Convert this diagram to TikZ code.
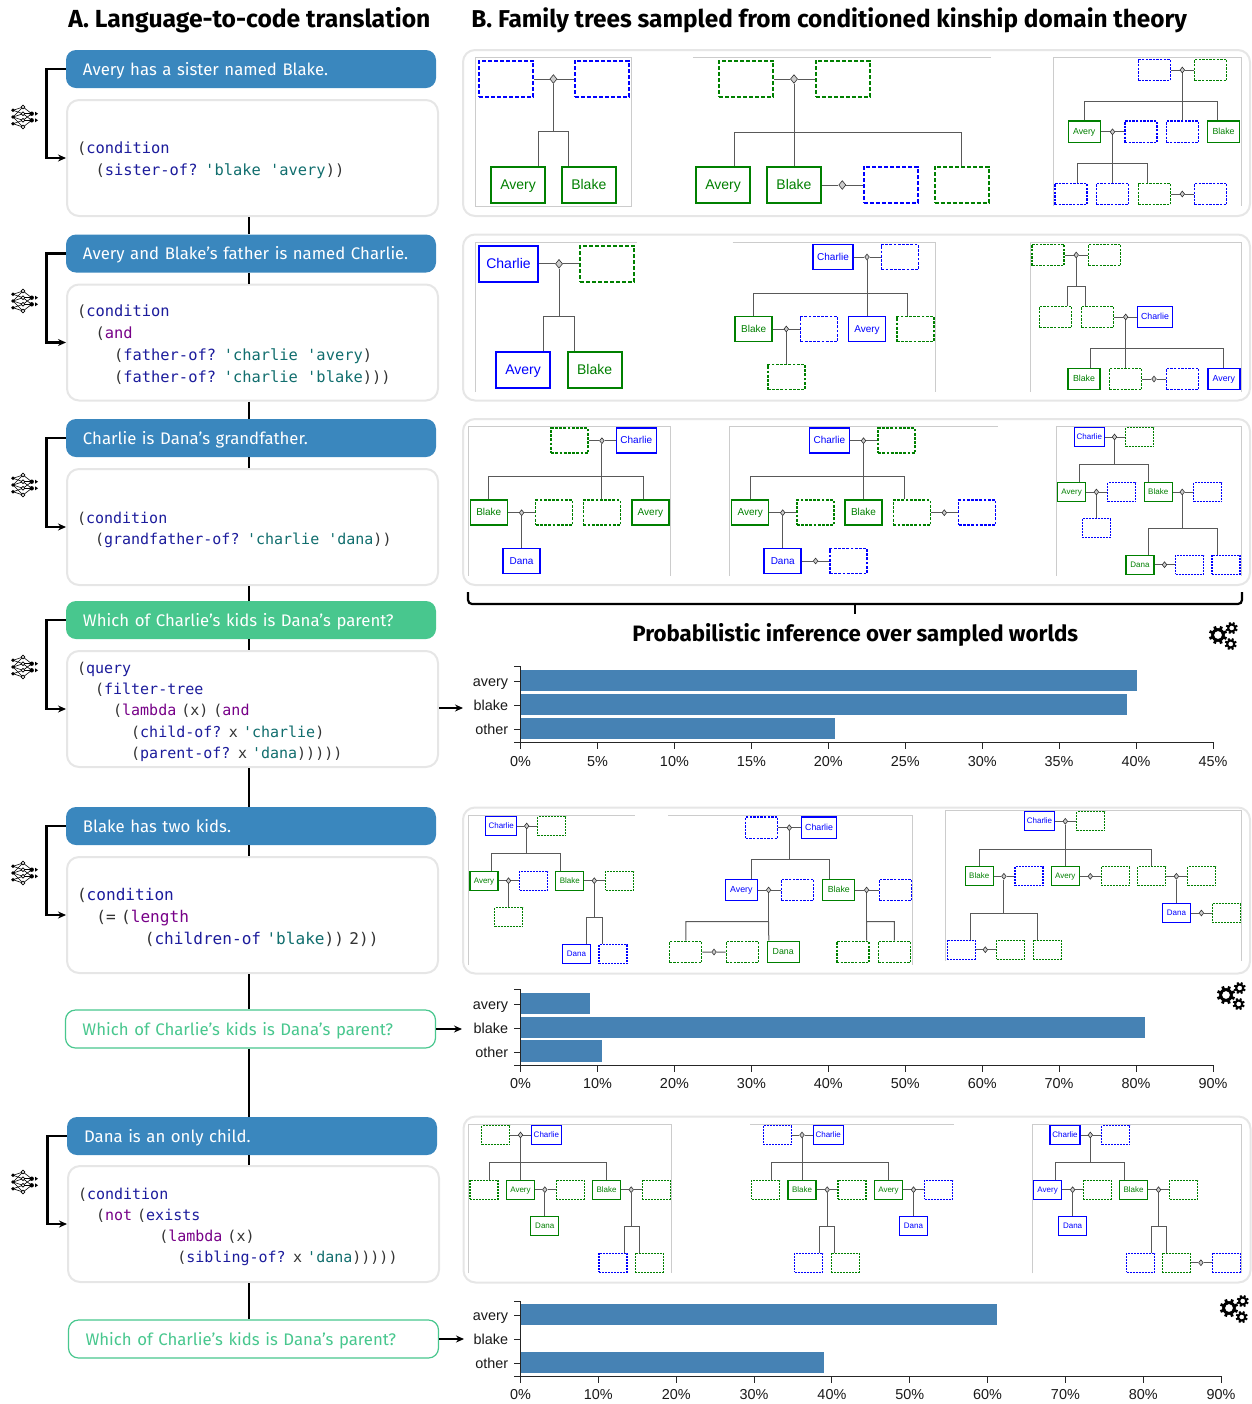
\documentclass[tikz,border=0pt]{standalone}
\usepackage{fontspec}
\usepackage{xcolor}
\usepackage{tikz}
\usetikzlibrary{positioning, arrows.meta, shapes.geometric}
\setmainfont{Fira Sans}
\newfontfamily\codefont{DejaVu Sans Mono}
\newfontfamily\plotfont{Liberation Sans}

\definecolor{langblue}{HTML}{3A87BE}
\definecolor{askgreen}{HTML}{48C78E}
\definecolor{panelgray}{HTML}{E6E6E6}
\definecolor{framegray}{HTML}{CCCCCC}
\definecolor{barblue}{HTML}{4682B4}
\definecolor{codenavy}{HTML}{1C1C9C}
\definecolor{codepurple}{HTML}{770088}
\definecolor{codeteal}{HTML}{116E6E}
\definecolor{codeplain}{HTML}{333333}
\definecolor{kinblue}{HTML}{0000FF}
\definecolor{kingreen}{HTML}{008000}

\newcommand{\fn}[1]{\textcolor{codenavy}{#1}}
\newcommand{\kw}[1]{\textcolor{codepurple}{#1}}
\newcommand{\qt}[1]{\textcolor{codeteal}{#1}}
\newcommand{\ind}[1]{\hphantom{#1}}

\tikzset{
  lang/.style={rectangle, fill=langblue, text=white, rounded corners=5pt, inner ysep=0pt, inner xsep=8.5pt,
    text width=168pt, text height=7.5pt, text depth=1.5pt, minimum height=19pt, align=left, font=\fontsize{8.38}{10}\selectfont},
  query/.style={lang, fill=askgreen},
  askout/.style={lang, fill=white, draw=askgreen, line width=0.6pt, text=askgreen},
  codebox/.style={rectangle, draw=panelgray, fill=white, line width=1pt, rounded corners=6pt, inner xsep=5pt, inner ysep=0pt,
    text width=175.5pt, minimum height=58pt, align=left, text=codeplain, font=\codefont\fontsize{7.7}{11}\selectfont,
    execute at begin node={\rule{0pt}{8.4pt}}},
  codewide/.style={font=\codefont\fontsize{8.05}{11}\selectfont},
  codetight/.style={font=\codefont\fontsize{7.5}{10.6}\selectfont},
  panel/.style={rectangle, draw=panelgray, fill=white, line width=1pt, rounded corners=6pt, minimum width=393.5pt, minimum height=83pt},
  spine/.style={draw=black, line width=0.7pt},
  elbow/.style={draw=black, line width=1.2pt, -{Stealth[length=4pt,width=3.5pt]}},
  outarrow/.style={draw=black, line width=0.6pt, -{Stealth[length=4pt,width=3.5pt]}},
  frame/.style={draw=framegray, line width=0.5pt},
  kinline/.style={draw=black!65, line width=0.5pt},
  kina/.style={rectangle, inner sep=0pt, line width=1pt, dash pattern=on 2pt off 1pt, minimum width=27pt, minimum height=18.2pt, text height=5.6pt, text depth=1.1pt, font=\plotfont\fontsize{7}{8}\selectfont},
  kinb/.style={rectangle, inner sep=0pt, line width=0.75pt, dash pattern=on 1.4pt off 0.7pt, minimum width=18.5pt, minimum height=12.5pt, text height=4pt, text depth=0.8pt, font=\plotfont\fontsize{5}{6}\selectfont},
  kinc/.style={rectangle, inner sep=0pt, line width=0.65pt, dash pattern=on 1.2pt off 0.6pt, minimum width=16pt, minimum height=10.7pt, text height=3.5pt, text depth=0.7pt, font=\plotfont\fontsize{4.4}{5}\selectfont},
  kind/.style={rectangle, inner sep=0pt, line width=0.6pt, dash pattern=on 1pt off 0.5pt, minimum width=14pt, minimum height=9.5pt, text height=3.2pt, text depth=0.64pt, font=\plotfont\fontsize{4}{5}\selectfont},
  pb/.style={draw=kinblue, text=kinblue, solid},
  pg/.style={draw=kingreen, text=kingreen, solid},
  qb/.style={draw=kinblue},
  qg/.style={draw=kingreen},
  wed/.style={diamond, draw=black!80, fill=black!20, inner sep=0pt, line width=0.3pt, minimum width=2.4pt, minimum height=3pt},
  weda/.style={wed, minimum width=3.6pt, minimum height=4.4pt},
  axisline/.style={draw=black!85, line width=0.5pt},
  ticklab/.style={font=\plotfont\fontsize{7.2}{8}\selectfont, text=black!90, inner sep=0pt},
  heading/.style={font=\bfseries\fontsize{12.35}{14}\selectfont, inner sep=0pt, anchor=base west},
  netpic/.pic={
    \foreach \a/\b in {-6.7/-10,-6.7/-3.3,0/-10,0/-3.3,0/3.3,0/10,6.7/3.3,6.7/10}
      \draw[line width=0.3pt] (-12,\a) -- (-2,\b);
    \foreach \a/\b in {-10/-3.3,-3.3/-3.3,-3.3/3.3,3.3/-3.3,3.3/3.3,10/3.3}
      \draw[line width=0.3pt] (-2,\a) -- (6.7,\b);
    \foreach \a in {-6.7,0,6.7}
      \fill (-12,\a) circle (1.9);
    \foreach \a in {-10,-3.3,3.3,10}
      \filldraw[fill=white, line width=0.35pt] (-2,\a) circle (1.9);
    \foreach \a in {-3.3,3.3}{
      \fill (6.7,\a) circle (2.2);
      \fill (10,\a-2) -- (13,\a) -- (10,\a+2) -- cycle;
    }
  },
  gearpic/.pic={
    \foreach \cx/\cy/\r/\w/\tl in {-6/-1/5.5/1.4/9.2, 7.7/-8/3.5/1/6, 6.7/8/3.5/1/6}{
      \draw[line width=\w pt] (\cx,\cy) circle (\r);
      \foreach \a in {0,45,...,315}
        \draw[line width=\w pt, shift={(\cx,\cy)}, rotate=\a+22] (\r,0) -- (\tl,0);
    }
  }
}

\begin{document}
\begin{tikzpicture}[x=0.5pt, y=-0.5pt]
\useasboundingbox (0,0) rectangle (1252,1404);

% headings
\node[heading] (titlea) at (68,27) {A. Language-to-code translation};
\node[heading, font=\bfseries\fontsize{12.19}{14}\selectfont] (titleb) at (471,27) {B. Family trees sampled from conditioned kinship domain theory};
\node[heading, font=\bfseries\fontsize{11.13}{13}\selectfont] (titlec) at (632,641) {Probabilistic inference over sampled worlds};

% spine first, the boxes sit on it
\coordinate (spx) at (249,0);

% left column
\node[lang] (lang1) at (251,69) {Avery has a sister named Blake.};
\node[codebox] (code1) at (252.5,158) {(\fn{condition}\\\ind{xx}(\fn{sister-of?} \qt{'blake}\ind{x}\qt{'avery}))};
\node[lang] (lang2) at (251,253.5) {Avery and Blake’s father is named Charlie.};
\node[codebox] (code2) at (252.5,342.5) {(\fn{condition}\\\ind{xx}(\kw{and}\\\ind{xxxx}(\fn{father-of?} \qt{'charlie}\ind{x}\qt{'avery})\\\ind{xxxx}(\fn{father-of?} \qt{'charlie}\ind{x}\qt{'blake})))};
\node[lang] (lang3) at (251,438) {Charlie is Dana’s grandfather.};
\node[codebox,codetight] (code3) at (252.5,527) {(\fn{condition}\\\ind{xx}(\fn{grandfather-of?} \qt{'charlie}\ind{x}\qt{'dana}))};
\node[query] (lang4) at (251,620) {Which of Charlie’s kids is Dana’s parent?};
\node[codebox,codetight] (code4) at (252.5,709) {(\fn{query}\\\ind{xx}(\fn{filter-tree}\\\ind{xxxx}(\kw{lambda} (x) (\kw{and}\\\ind{xxxxxx}(\fn{child-of?} x \qt{'charlie})\\\ind{xxxxxx}(\fn{parent-of?} x \qt{'dana})))))};
\node[lang] (lang5) at (251,826) {Blake has two kids.};
\node[codebox,codewide] (code5) at (252.5,915) {(\fn{condition}\\\ind{xx}(= (\kw{length}\\\ind{xxxxxxx}(\fn{children-of} \qt{'blake})) 2))};
\node[askout] (ask5) at (250.5,1029) {Which of Charlie’s kids is Dana’s parent?};
\node[lang] (lang6) at (252,1136) {Dana is an only child.};
\node[codebox,codetight] (code6) at (253.5,1224) {(\fn{condition}\\\ind{xx}(\kw{not} (\fn{exists}\\\ind{xxxxxxxxx}(\kw{lambda} (x)\\\ind{xxxxxxxxxxx}(\fn{sibling-of?} x \qt{'dana})))))};
\node[askout] (ask6) at (253.5,1339) {Which of Charlie’s kids is Dana’s parent?};

\foreach \a/\b in {code1/lang2, lang2/code2, code2/lang3, lang3/code3, code3/lang4, lang4/code4, code4/lang5, lang5/code5, code5/ask5, ask5/lang6, lang6/code6, code6/ask6}
  \draw[spine] (\a.south -| spx) -- (\b.north -| spx);

\foreach \n in {1,...,6}
  \draw[elbow] (lang\n.west) -- ++(-19,0) |- (code\n.west);

\foreach \ny in {117,301,485,667,873,1182}
  \pic at (25,\ny) {netpic};

\coordinate (outa) at (463,708);
\coordinate (outb) at (462,1029);
\coordinate (outc) at (464,1339);
\draw[outarrow] (code4.east |- outa) -- (outa);
\draw[outarrow] (ask5.east) -- (outb);
\draw[outarrow] (ask6.east) -- (outc);

% panels
\node[panel] (pan1) at (856.5,133) {};
\node[panel] (pan2) at (856.5,317.5) {};
\node[panel] (pan3) at (856.5,502) {};
\node[panel] (pan4) at (856.5,890.5) {};
\node[panel] (pan5) at (857,1199.5) {};

% tree a
\draw[frame] (475.2,57.3) rectangle (631.7,206.3);
\node[kina,qb] (a1) at (506.2,79) {};
\node[kina,qb] (a2) at (601.9,79) {};
\node[weda] (aw) at (553.4,79) {};
\coordinate (aj) at (553.4,131.7);
\node[kina,pg] (a3) at (518.1,185) {Avery};
\node[kina,pg] (a4) at (588.8,185) {Blake};
\draw[kinline] (a1) -- (aw) -- (a2) (aw) -- (aj) ([xshift=10.1pt]a3.north) |- (aj) ([xshift=-10.1pt]a4.north) |- (aj);

% tree b
\draw[frame] (692.8,57.3) -- (991.3,57.3);
\node[kina,qg] (b1) at (746.4,79) {};
\node[kina,qg] (b2) at (842.8,79) {};
\node[weda] (bw) at (794,79) {};
\coordinate (bj) at (794,132);
\node[kina,pg] (b3) at (723.1,185) {Avery};
\node[kina,pg] (b4) at (794,185) {Blake};
\node[weda] (bw2) at (842.3,185) {};
\node[kina,qb] (b5) at (890.8,185) {};
\node[kina,qg] (b6) at (961.5,185) {};
\draw[kinline] (b1) -- (bw) -- (b2) (bw) -- (b4) ([xshift=5.5pt]b3.north) |- (bj) (b6) |- (bj) (b4) -- (bw2) -- (b5);

% tree c
\draw[frame] (1053.4,206) |- (1241.3,57.3) -- (1241.3,206);
\node[kinc,qb] (c1) at (1154.2,70) {};
\node[kinc,qg] (c2) at (1210.8,70) {};
\node[wed] (cw) at (1182.3,70) {};
\coordinate (cj) at (1182.3,101);
\node[kinc,pg] (c3) at (1084.2,131.8) {Avery};
\node[wed] (cw2) at (1112.5,131.8) {};
\node[kinc,qb] (c4) at (1141,131.8) {};
\node[kinc,qb] (c5) at (1182.3,131.8) {};
\node[kinc,pg] (c6) at (1223.6,131.8) {Blake};
\coordinate (cj2) at (1112.5,163.3);
\node[kinc,qb] (c7) at (1070.9,194) {};
\node[kinc,qb] (c8) at (1112.5,194) {};
\node[kinc,qg] (c9) at (1154.2,194) {};
\node[wed] (cw3) at (1182.3,194) {};
\node[kinc,qb] (c10) at (1210.8,194) {};
\draw[kinline] (c1) -- (cw) -- (c2) (cw) -- (c5) (c3) |- (cj) ([xshift=-3pt]c6.north) |- (cj);
\draw[kinline] (c3) -- (cw2) -- (c4) (cw2) -- (c8) ([xshift=3.4pt]c7.north) |- (cj2) ([xshift=-3.4pt]c9.north) |- (cj2) (c9) -- (cw3) -- (c10);

% tree d
\draw[frame] (475.2,392) |- (637.3,242.3);
\node[kina,pb,minimum width=29.3pt] (d1) at (508.5,263.8) {Charlie};
\node[kina,qg] (d2) at (607.2,263.8) {};
\node[weda] (dw) at (559,263.8) {};
\coordinate (dj) at (559,316.7);
\node[kina,pb] (d3) at (523.1,370.2) {Avery};
\node[kina,pg] (d4) at (594.6,370.2) {Blake};
\draw[kinline] (d1) -- (dw) -- (d2) (dw) -- (dj) ([xshift=10.1pt]d3.north) |- (dj) ([xshift=-10.2pt]d4.north) |- (dj);

% tree e
\draw[frame] (732.7,242.3) -| (935.3,392);
\node[kinb,pb,minimum width=20pt] (e1) at (833,257) {Charlie};
\node[wed] (ew) at (867,257) {};
\node[kinb,qb] (e2) at (899.9,257) {};
\coordinate (ej) at (867,293);
\node[kinb,pg] (e3) at (753.7,329) {Blake};
\node[wed] (ew2) at (786.3,329) {};
\node[kinb,qb] (e4) at (819.1,329) {};
\node[kinb,pb] (e5) at (867,329) {Avery};
\node[kinb,qg] (e6) at (915.3,329) {};
\node[kinb,qg] (e7) at (786.3,377) {};
\draw[kinline] (e1) -- (ew) -- (e2) (ew) -- (e5) (e3) |- (ej) ([xshift=-3.9pt]e6.north) |- (ej) (e3) -- (ew2) -- (e4) (ew2) -- (e7);

% tree f
\draw[frame] (1030.2,392) |- (1241.3,242.3) -- (1241.3,392);
\node[kinc,qg] (f1) at (1048.1,255) {};
\node[wed] (fw) at (1076.2,255) {};
\node[kinc,qg] (f2) at (1104.7,255) {};
\coordinate (fj) at (1076.2,286);
\node[kinc,qg] (f3) at (1055.5,317) {};
\node[kinc,qg] (f4) at (1097.4,317) {};
\node[wed] (fw2) at (1125.7,317) {};
\node[kinc,pb,minimum width=17.5pt] (f5) at (1155,317) {Charlie};
\coordinate (fj2) at (1125.7,348);
\node[kinc,pg] (f6) at (1084,379) {Blake};
\node[kinc,qg] (f7) at (1125.7,379) {};
\node[wed] (fw3) at (1154,379) {};
\node[kinc,qb] (f8) at (1182.5,379) {};
\node[kinc,pb] (f9) at (1223.9,379) {Avery};
\draw[kinline] (f1) -- (fw) -- (f2) (fw) -- (fj) ([xshift=6pt]f3.north) |- (fj) ([xshift=-6pt]f4.north) |- (fj);
\draw[kinline] (f4) -- (fw2) -- (f5) (fw2) -- (f7) ([xshift=3.2pt]f6.north) |- (fj2) (f9) |- (fj2) (f7) -- (fw3) -- (f8);

% tree g
\draw[frame] (468.6,575.7) |- (670.6,426.3) -- (670.6,575.7);
\node[kinb,qg] (g1) at (569.6,440.7) {};
\node[wed] (gw) at (601.9,440.7) {};
\node[kinb,pb,minimum width=20pt] (g2) at (636.3,440.7) {Charlie};
\coordinate (gj) at (601.9,476.7);
\node[kinb,pg] (g3) at (488.8,512.7) {Blake};
\node[wed] (gw2) at (521.6,512.7) {};
\node[kinb,qg] (g4) at (554.2,512.7) {};
\node[kinb,qg] (g5) at (601.9,512.7) {};
\node[kinb,pg] (g6) at (650.4,512.7) {Avery};
\node[kinb,pb] (g7) at (521.6,561) {Dana};
\draw[kinline] (g1) -- (gw) -- (g2) (gw) -- (g5) (g3) |- (gj) ([xshift=-3.3pt]g6.north) |- (gj) (g3) -- (gw2) -- (g4) (gw2) -- (g7);

% tree h
\draw[frame] (729.7,575.7) |- (997.9,426.3);
\node[kinb,pb,minimum width=20pt] (h1) at (829.4,440.7) {Charlie};
\node[wed] (hw) at (863.5,440.7) {};
\node[kinb,qg] (h2) at (896.6,440.7) {};
\coordinate (hj) at (863.5,476.7);
\node[kinb,pg] (h3) at (750.2,512.7) {Avery};
\node[wed] (hw2) at (782.7,512.7) {};
\node[kinb,qg] (h4) at (815.3,512.7) {};
\node[kinb,pg] (h5) at (863.5,512.7) {Blake};
\node[kinb,qg] (h6) at (911.8,512.7) {};
\node[wed] (hw3) at (944.3,512.7) {};
\node[kinb,qb] (h7) at (977.2,512.7) {};
\node[kinb,pb] (h8) at (782.7,561) {Dana};
\node[wed] (hw4) at (815.6,561) {};
\node[kinb,qb] (h9) at (848.4,561) {};
\draw[kinline] (h1) -- (hw) -- (h2) (hw) -- (h5) (h3) |- (hj) ([xshift=-3.6pt]h6.north) |- (hj);
\draw[kinline] (h3) -- (hw2) -- (h4) (hw2) -- (h8) (h6) -- (hw3) -- (h7) (h8) -- (hw4) -- (h9);

% tree i
\draw[frame] (1056,575.7) |- (1241.3,426.3) -- (1241.3,575.7);
\node[kind,pb,minimum width=15pt] (i1) at (1089.3,437) {Charlie};
\node[wed] (iw) at (1114.5,437) {};
\node[kind,qg] (i2) at (1139.5,437) {};
\coordinate (ij) at (1114.5,464.3);
\node[kind,pg] (i3) at (1071.6,492) {Avery};
\node[wed] (iw2) at (1096.4,492) {};
\node[kind,qb] (i4) at (1121.6,492) {};
\node[kind,pg] (i5) at (1158.2,492) {Blake};
\node[wed] (iw3) at (1182.2,492) {};
\node[kind,qb] (i6) at (1207.7,492) {};
\node[kind,qb] (i7) at (1096.4,528.3) {};
\coordinate (ij2) at (1182.2,528.3);
\node[kind,pg] (i8) at (1140,564.7) {Dana};
\node[wed] (iw4) at (1164.5,564.7) {};
\node[kind,qb] (i9) at (1189.5,564.7) {};
\node[kind,qb] (i10) at (1225.9,564.7) {};
\draw[kinline] (i1) -- (iw) -- (i2) (iw) -- (ij) ([xshift=3.8pt]i3.north) |- (ij) ([xshift=-4.9pt]i5.north) |- (ij);
\draw[kinline] (i3) -- (iw2) -- (i4) (iw2) -- (i7) (i5) -- (iw3) -- (i6) (iw3) -- (ij2) ([xshift=4.2pt]i8.north) |- (ij2) ([xshift=-4.4pt]i10.north) |- (ij2) (i8) -- (iw4) -- (i9);

% brace and first chart
\draw[line width=1.1pt, rounded corners=2pt] (468,592) |- (1242,604) -- (1242,592);
\coordinate (bracemid) at (855,604);
\draw[line width=1.1pt] (bracemid) -- ++(0,10);
\pic at (1224,636) {gearpic};

\fill[barblue] (520.5,669.5) rectangle (1137,691);
\fill[barblue] (520.5,693.5) rectangle (1126.5,715);
\fill[barblue] (520.5,717.5) rectangle (835,739);
\draw[axisline] (514,666) -| (520.5,742.5) -- (514,742.5);
\draw[axisline] (520.5,749) -- (520.5,742.5) -| (1213,749);
\foreach \py/\by/\lab in {681/686/avery,705/710/blake,729/734/other}{
  \draw[axisline] (514,\py) -- (520.5,\py);
  \node[ticklab, anchor=base east] (ya\lab) at (508.5,\by) {\lab};
}
\foreach \px/\v in {520.5/0,597.5/5,674.4/10,751.4/15,828.3/20,905.2/25,982.2/30,1059.1/35,1136/40,1213/45}{
  \draw[axisline] (\px,742.5) -- (\px,749);
  \node[ticklab] (xa\v) at (\px,761.5) {\v\%};
}

% tree j
\draw[frame] (468.6,965) |- (634.7,815.3);
\node[kind,pb,minimum width=15.5pt] (j1) at (501.2,826) {Charlie};
\node[wed] (jw) at (526.7,826) {};
\node[kind,qg] (j2) at (551.7,826) {};
\coordinate (jj) at (526.7,853.3);
\node[kind,pg] (j3) at (484,880.7) {Avery};
\node[wed] (jw2) at (508.5,880.7) {};
\node[kind,qb] (j4) at (533.7,880.7) {};
\node[kind,pg] (j5) at (569.8,880.7) {Blake};
\node[wed] (jw3) at (594.3,880.7) {};
\node[kind,qg] (j6) at (619.6,880.7) {};
\node[kind,qg] (j7) at (508.5,917.3) {};
\coordinate (jj2) at (594.3,917.3);
\node[kind,pb] (j8) at (576.4,954) {Dana};
\node[kind,qb] (j9) at (613,954) {};
\draw[kinline] (j1) -- (jw) -- (j2) (jw) -- (jj) ([xshift=3.7pt]j3.north) |- (jj) ([xshift=-4.7pt]j5.north) |- (jj);
\draw[kinline] (j3) -- (jw2) -- (j4) (jw2) -- (j7) (j5) -- (jw3) -- (j6) (jw3) -- (jj2) ([xshift=5pt]j8.north) |- (jj2) ([xshift=-5.3pt]j9.north) |- (jj2);

% tree k
\draw[frame] (668,815.3) -| (912.5,965);
\node[kinc,qb] (k1) at (761.8,827.7) {};
\node[wed] (kw) at (789.3,827.7) {};
\node[kinc,pb,minimum width=17.3pt] (k2) at (819.1,827.7) {Charlie};
\coordinate (kj) at (789.3,859);
\node[kinc,pb] (k3) at (741.3,890) {Avery};
\node[wed] (kw2) at (768.6,890) {};
\node[kinc,qb] (k4) at (797.6,890) {};
\node[kinc,pg] (k5) at (838.8,890) {Blake};
\node[wed] (kw3) at (866.6,890) {};
\node[kinc,qb] (k6) at (895.4,890) {};
\coordinate (kj2) at (768.6,921.7);
\coordinate (kj3) at (866.6,921.7);
\node[kinc,qg] (k7) at (685.8,952) {};
\node[wed] (kw4) at (714,952) {};
\node[kinc,qg] (k8) at (742.3,952) {};
\node[kinc,pg] (k9) at (783.2,952) {Dana};
\node[kinc,qg] (k10) at (852.9,952) {};
\node[kinc,qg] (k11) at (894.3,952) {};
\draw[kinline] (k1) -- (kw) -- (k2) (kw) -- (kj) ([xshift=5pt]k3.north) |- (kj) ([xshift=-4.5pt]k5.north) |- (kj);
\draw[kinline] (k3) -- (kw2) -- (k4) (k5) -- (kw3) -- (k6) (kw2) -- (kj2) (kw3) -- (kj3);
\draw[kinline] (k7) |- (kj2) ([xshift=-7.2pt]k9.north) -- (kj2) (k7) -- (kw4) -- (k8) ([xshift=6.8pt]k10.north) |- (kj3) (k11) |- (kj3);

% tree l
\draw[frame] (945.4,960.7) |- (1241.3,810.3) -- (1241.3,960.7);
\node[kind,pb,minimum width=15pt] (l1) at (1039.5,821.3) {Charlie};
\node[wed] (lw) at (1065.3,821.3) {};
\node[kind,qg] (l2) at (1090.6,821.3) {};
\coordinate (lj) at (1065.3,849);
\node[kind,pg] (l3) at (979.2,876.3) {Blake};
\node[wed] (lw2) at (1003.9,876.3) {};
\node[kind,qb] (l4) at (1028.9,876.3) {};
\node[kind,pg] (l5) at (1065.3,876.3) {Avery};
\node[wed] (lw3) at (1090.3,876.3) {};
\node[kind,qg] (l6) at (1115.3,876.3) {};
\node[kind,qg] (l7) at (1151.5,876.3) {};
\node[wed] (lw4) at (1176.4,876.3) {};
\node[kind,qg] (l8) at (1201.7,876.3) {};
\node[kind,pb] (l9) at (1176.4,913) {Dana};
\node[wed] (lw5) at (1201.4,913) {};
\node[kind,qg] (l10) at (1226.4,913) {};
\coordinate (lj2) at (1003.9,913.3);
\node[kind,qb] (l11) at (961.3,949.7) {};
\node[wed] (lw6) at (985.3,949.7) {};
\node[kind,qg] (l12) at (1010.5,949.7) {};
\node[kind,qg] (l13) at (1047.1,949.7) {};
\draw[kinline] (l1) -- (lw) -- (l2) (lw) -- (l5) (l3) |- (lj) (l7) |- (lj) (l3) -- (lw2) -- (l4) (l5) -- (lw3) -- (l6) (l7) -- (lw4) -- (l8) (lw4) -- (l9) (l9) -- (lw5) -- (l10);
\draw[kinline] (lw2) -- (lj2) ([xshift=4.4pt]l11.north) |- (lj2) ([xshift=-4.6pt]l13.north) |- (lj2) (l11) -- (lw6) -- (l12);

% second chart
\pic at (1232,996) {gearpic};
\fill[barblue] (520.5,992.5) rectangle (590,1014);
\fill[barblue] (520.5,1016.5) rectangle (1145,1038);
\fill[barblue] (520.5,1040) rectangle (601.5,1061.5);
\draw[axisline] (514,989) -| (520.5,1065) -- (514,1065);
\draw[axisline] (520.5,1071.5) -- (520.5,1065) -| (1213,1071.5);
\foreach \py/\by/\lab in {1004/1009/avery,1028/1033/blake,1052/1057/other}{
  \draw[axisline] (514,\py) -- (520.5,\py);
  \node[ticklab, anchor=base east] (yb\lab) at (508.5,\by) {\lab};
}
\foreach \px/\v in {520.5/0,597.5/10,674.4/20,751.4/30,828.3/40,905.2/50,982.2/60,1059.1/70,1136/80,1213/90}{
  \draw[axisline] (\px,1065) -- (\px,1071.5);
  \node[ticklab] (xb\v) at (\px,1083.5) {\v\%};
}

% tree m
\draw[frame] (468.6,1273.3) |- (671.6,1124.3) -- (671.6,1273.3);
\node[kind,qg] (m1) at (495.6,1135) {};
\node[wed] (mw) at (520.5,1135) {};
\node[kind,pb,minimum width=15pt] (m2) at (546.4,1135) {Charlie};
\coordinate (mj) at (520.5,1162.3);
\node[kind,qg] (m3) at (484,1189.7) {};
\node[kind,pg] (m4) at (520.5,1189.7) {Avery};
\node[wed] (mw2) at (544.8,1189.7) {};
\node[kind,qg] (m5) at (570.1,1189.7) {};
\node[kind,pg] (m6) at (606.5,1189.7) {Blake};
\node[wed] (mw3) at (631.2,1189.7) {};
\node[kind,qg] (m7) at (656.2,1189.7) {};
\node[kind,pg] (m8) at (544.8,1226.3) {Dana};
\coordinate (mj2) at (631.2,1226.3);
\node[kind,qb] (m9) at (613,1262.7) {};
\node[kind,qg] (m10) at (649.4,1262.7) {};
\draw[kinline] (m1) -- (mw) -- (m2) (mw) -- (m4) ([xshift=2.7pt]m3.north) |- (mj) (m6) |- (mj);
\draw[kinline] (m4) -- (mw2) -- (m5) (mw2) -- (m8) (m6) -- (mw3) -- (m7) (mw3) -- (mj2) ([xshift=5.5pt]m9.north) |- (mj2) ([xshift=-5pt]m10.north) |- (mj2);

% tree n
\draw[frame] (750.4,1124.3) -- (953.9,1124.3);
\node[kind,qb] (n1) at (777.4,1135) {};
\node[wed] (nw) at (802,1135) {};
\node[kind,pb,minimum width=15pt] (n2) at (828.2,1135) {Charlie};
\coordinate (nj) at (802,1162.3);
\node[kind,qg] (n3) at (765.6,1189.7) {};
\node[kind,pg] (n4) at (802,1189.7) {Blake};
\node[wed] (nw2) at (827.2,1189.7) {};
\node[kind,qg] (n5) at (851.9,1189.7) {};
\node[kind,pg] (n6) at (888.5,1189.7) {Avery};
\node[wed] (nw3) at (913.5,1189.7) {};
\node[kind,qb] (n7) at (938.5,1189.7) {};
\node[kind,pb] (n8) at (913.5,1226.3) {Dana};
\coordinate (nj2) at (827.2,1226.3);
\node[kind,qb] (n9) at (808.5,1262.7) {};
\node[kind,qg] (n10) at (845.4,1262.7) {};
\draw[kinline] (n1) -- (nw) -- (n2) (nw) -- (n4) ([xshift=3pt]n3.north) |- (nj) (n6) |- (nj);
\draw[kinline] (n4) -- (nw2) -- (n5) (n6) -- (nw3) -- (n7) (nw3) -- (n8) (nw2) -- (nj2) ([xshift=5.5pt]n9.north) |- (nj2) ([xshift=-5.3pt]n10.north) |- (nj2);

% tree o
\draw[frame] (1032.2,1273.3) |- (1241.3,1124.3) -- (1241.3,1273.3);
\node[kind,pb,minimum width=15pt] (o1) at (1065,1135) {Charlie};
\node[wed] (ow) at (1090.3,1135) {};
\node[kind,qb] (o2) at (1115.8,1135) {};
\coordinate (oj) at (1090.3,1162.3);
\node[kind,pb] (o3) at (1047.6,1189.7) {Avery};
\node[wed] (ow2) at (1072.6,1189.7) {};
\node[kind,qg] (o4) at (1097.4,1189.7) {};
\node[kind,pg] (o5) at (1133.5,1189.7) {Blake};
\node[wed] (ow3) at (1158.5,1189.7) {};
\node[kind,qg] (o6) at (1183.5,1189.7) {};
\node[kind,pb] (o7) at (1072.6,1226.3) {Dana};
\coordinate (oj2) at (1158.5,1226.3);
\node[kind,qb] (o8) at (1140.6,1262.7) {};
\node[kind,qg] (o9) at (1176.4,1262.7) {};
\node[wed] (ow4) at (1200.9,1262.7) {};
\node[kind,qb] (o10) at (1226.4,1262.7) {};
\draw[kinline] (o1) -- (ow) -- (o2) (ow) -- (oj) ([xshift=4pt]o3.north) |- (oj) ([xshift=-4.5pt]o5.north) |- (oj);
\draw[kinline] (o3) -- (ow2) -- (o4) (ow2) -- (o7) (o5) -- (ow3) -- (o6) (ow3) -- (oj2) ([xshift=5.2pt]o8.north) |- (oj2) ([xshift=-4.9pt]o9.north) |- (oj2) (o9) -- (ow4) -- (o10);

% third chart
\pic at (1235,1309) {gearpic};
\fill[barblue] (520.5,1303.5) rectangle (997,1325);
\fill[barblue] (520.5,1351.5) rectangle (824,1373);
\draw[axisline] (514,1301) -| (520.5,1376.5) -- (514,1376.5);
\draw[axisline] (520.5,1383) -- (520.5,1376.5) -| (1221,1383);
\foreach \py/\by/\lab in {1315/1320/avery,1339/1344/blake,1363/1368/other}{
  \draw[axisline] (514,\py) -- (520.5,\py);
  \node[ticklab, anchor=base east] (yc\lab) at (508.5,\by) {\lab};
}
\foreach \px/\v in {520.5/0,598.3/10,676.2/20,754/30,831.9/40,909.7/50,987.6/60,1065.4/70,1143.2/80,1221/90}{
  \draw[axisline] (\px,1376.5) -- (\px,1383);
  \node[ticklab] (xc\v) at (\px,1395) {\v\%};
}
\end{tikzpicture}
\end{document}
